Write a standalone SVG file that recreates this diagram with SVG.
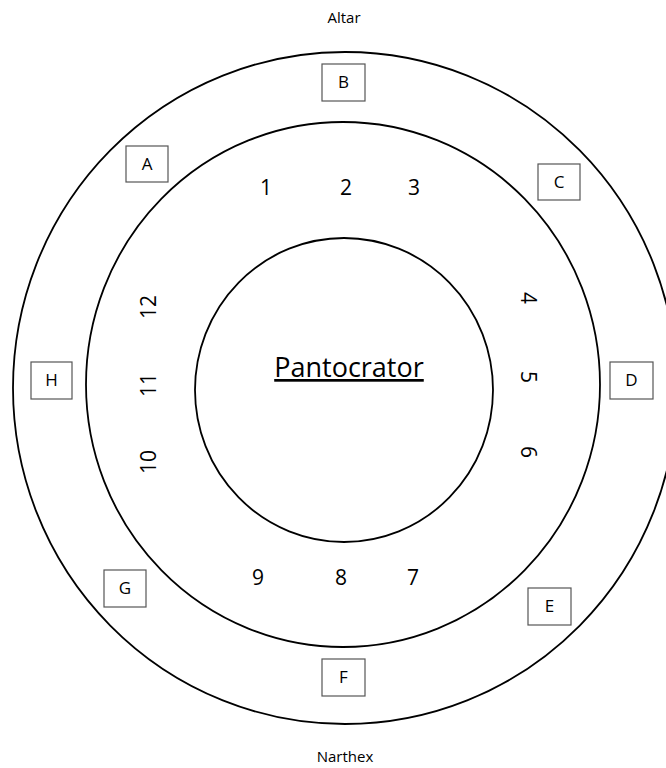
<svg xmlns="http://www.w3.org/2000/svg" width="666" height="768" viewBox="0 0 666 768">
<style>
.ring{fill:none;stroke:#000;stroke-width:1.8}
.box{fill:#fff;stroke:#555;stroke-width:1.2}
.lbl{font-family:"Open Sans","Liberation Sans",sans-serif;font-size:17px;fill:#000;text-anchor:middle}
.num{font-family:"Open Sans","Liberation Sans",sans-serif;font-size:21px;fill:#000;text-anchor:middle}
.cap{font-family:"Open Sans","Liberation Sans",sans-serif;font-size:15px;fill:#000;text-anchor:middle}
.title{font-family:"Open Sans","Liberation Sans",sans-serif;font-size:27px;fill:#000;text-anchor:middle;text-decoration:underline}
</style>
<rect width="666" height="768" fill="#fff"/>
<g id="rings">
<ellipse class="ring" cx="345" cy="388" rx="332" ry="336"/>
<ellipse class="ring" cx="343" cy="384.5" rx="257" ry="262.5"/>
<ellipse class="ring" cx="344" cy="390" rx="149" ry="152"/>
</g>
<g id="connectors"></g>
<text class="cap" x="344" y="23">Altar</text>
<text class="cap" x="345" y="762">Narthex</text>
<g id="center"><text class="title" x="349" y="377">Pantocrator</text></g>
<g id="boxA"><rect class="box" x="126" y="146" width="42" height="36"/><text class="lbl" x="147" y="170">A</text></g>
<g id="boxB"><rect class="box" x="322" y="64" width="43" height="37"/><text class="lbl" x="343.5" y="88">B</text></g>
<g id="boxC"><rect class="box" x="538" y="164" width="42" height="36"/><text class="lbl" x="559" y="188">C</text></g>
<g id="boxD"><rect class="box" x="610" y="362" width="43" height="37"/><text class="lbl" x="631.5" y="386">D</text></g>
<g id="boxE"><rect class="box" x="528" y="588" width="43" height="37"/><text class="lbl" x="549.5" y="612">E</text></g>
<g id="boxF"><rect class="box" x="322" y="659" width="43" height="37"/><text class="lbl" x="343.5" y="683">F</text></g>
<g id="boxG"><rect class="box" x="104" y="570" width="42" height="37"/><text class="lbl" x="125" y="594">G</text></g>
<g id="boxH"><rect class="box" x="31" y="362" width="41" height="37"/><text class="lbl" x="51.5" y="386">H</text></g>
<g id="numbers">
<text class="num" x="266" y="195">1</text>
<text class="num" x="346" y="195">2</text>
<text class="num" x="414" y="195">3</text>
<text class="num" transform="translate(521,298) rotate(90)">4</text>
<text class="num" transform="translate(521,377) rotate(90)">5</text>
<text class="num" transform="translate(521,452) rotate(90)">6</text>
<text class="num" x="413" y="585">7</text>
<text class="num" x="341" y="585">8</text>
<text class="num" x="258" y="585">9</text>
<text class="num" transform="translate(156,462) rotate(-90)">10</text>
<text class="num" transform="translate(156,385) rotate(-90)">11</text>
<text class="num" transform="translate(156,307) rotate(-90)">12</text>
</g>
</svg>
